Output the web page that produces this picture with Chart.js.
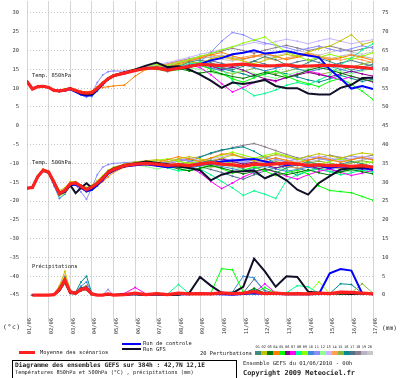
<!DOCTYPE html>
<html>
<head>
<meta charset="utf-8">
<script src="https://cdn.jsdelivr.net/npm/chart.js@4.4.1/dist/chart.umd.min.js"></script>
<style>
body{margin:0;background:#fff;overflow:hidden}
#wrap{position:relative;width:400px;height:378px;overflow:hidden;font-family:'DejaVu Sans Mono',monospace;color:#222}
#wrap canvas{position:absolute;left:0;top:0}
.t{position:absolute;white-space:pre;line-height:8px;font-size:5.4px}
.b{font-weight:bold}
.ln{position:absolute;height:2px}
.box{position:absolute;left:12px;top:360px;width:225px;height:24px;border:1px solid #000;box-sizing:border-box}
.sw{position:absolute;top:351px;width:6px;height:4px}
.num{position:absolute;top:345px;font-size:3.6px;line-height:4px;white-space:pre}
</style>
</head>
<body>
<div id="wrap">
<canvas id="ens" width="400" height="378"></canvas>
<div class="t" style="left:32px;top:71px">Temp. 850hPa</div>
<div class="t" style="left:32px;top:158px">Temp. 500hPa</div>
<div class="t" style="left:32px;top:262px">Précipitations</div>
<div class="t" style="left:3px;top:323px;font-size:6.4px;letter-spacing:0.6px">(°c)</div>
<div class="t" style="left:382px;top:324px;font-size:6.2px">(mm)</div>

<div class="ln" style="left:19px;top:351px;width:16px;height:3px;background:#ff2020"></div>
<div class="t" style="left:40px;top:348px">Moyenne des scénarios</div>
<div class="ln" style="left:122px;top:343px;width:19px;background:#0000ff"></div>
<div class="t" style="left:143px;top:339px">Run de controle</div>
<div class="ln" style="left:122px;top:348px;width:19px;background:#101028"></div>
<div class="t" style="left:143px;top:345px">Run GFS</div>
<div class="t" style="left:200px;top:349px">20 Perturbations</div>
<div id="swatches"></div>

<div class="box"></div>
<div class="t b" style="left:15px;top:361px;font-size:6.2px">Diagramme des ensembles GEFS sur 384h : 42,7N 12,1E</div>
<div class="t" style="left:15px;top:368px;font-size:5.3px">Températures 850hPa et 500hPa (°C) , précipitations (mm)</div>
<div class="t" style="left:243px;top:359px;font-size:5.5px">Ensemble GEFS du 01/06/2010 - 00h</div>
<div class="t b" style="left:243px;top:369px;font-size:6.9px">Copyright 2009 Meteociel.fr</div>
</div>
<script>
// forecast hours: 6h steps to 96h, then 12h steps
var hours = [0,6,12,18,24,30,36,42,48,54,60,66,72,78,84,90,96,
  108,120,132,144,156,168,180,192,204,216,228,240,252,264,276,288,300,312,324,336,348,360,372,384];
var dayTicks = [0,24,48,72,96,120,144,168,192,216,240,264,288,312,336,360,384];
var dateLabels = ['01/06','02/06','03/06','04/06','05/06','06/06','07/06','08/06','09/06',
  '10/06','11/06','12/06','13/06','14/06','15/06','16/06','17/06'];
var leftTicks = [-45,-40,-35,-30,-25,-20,-15,-10,-5,0,5,10,15,20,25,30];
var rightTicks = [0,5,10,15,20,25,30,35,40,45,50,55,60,65,70,75];

/*---------------- moyenne / controle / GFS ----------------*/
var meanT850 = [11.8,9.8,10.4,10.5,10.2,9.4,9.3,9.5,9.9,9.4,8.9,8.7,8.8,10.0,11.3,12.5,13.3,
  14.0,14.7,15.3,15.4,14.8,15.3,15.8,16.3,16.2,16.0,16.2,16.4,16.1,15.9,16.0,16.2,15.8,15.9,16.0,16.1,15.9,15.7,15.5,15.2];
var ctrlT850 = [11.8,9.8,10.4,10.5,10.2,9.4,9.2,9.3,9.7,9.0,8.3,8.0,8.2,9.6,11.0,12.4,13.2,
  14.0,14.8,15.2,15.4,15.1,15.5,15.6,16.4,17.4,18.0,19.0,19.4,20.1,19.2,19.5,19.9,19.2,18.7,18.2,15.0,12.6,9.9,10.6,9.8];
var gfsT850 = [11.8,9.8,10.4,10.5,10.2,9.3,9.2,9.6,10.0,9.2,8.6,8.3,8.4,9.8,11.2,12.6,13.4,
  14.2,15.0,16.0,16.8,15.6,15.8,15.0,13.6,12.0,10.1,11.5,11.1,11.6,12.2,10.6,10.0,10.0,8.6,8.3,8.3,10.1,10.9,12.7,12.8];

var meanT500 = [-16.6,-16.4,-13.5,-11.8,-12.3,-15.0,-18.0,-17.2,-15.4,-15.2,-16.1,-17.0,-16.3,-15.3,-14.0,-12.4,-11.6,
  -10.6,-10.2,-10.0,-10.2,-10.5,-10.3,-10.6,-10.2,-9.8,-10.2,-10.4,-10.8,-10.2,-10.3,-10.1,-9.9,-10.2,-10.5,-10.4,-10.6,-10.5,-10.8,-10.6,-11.0];
var ctrlT500 = [-16.6,-16.4,-13.5,-11.8,-12.4,-15.2,-18.2,-17.6,-15.8,-15.6,-16.5,-17.4,-17.0,-15.8,-14.4,-12.8,-11.9,
  -10.8,-10.5,-10.2,-10.6,-11.0,-10.7,-10.5,-10.2,-10.0,-9.5,-9.2,-9.0,-8.8,-9.5,-10.0,-10.4,-10.2,-10.8,-10.5,-11.2,-10.8,-11.0,-11.3,-11.6];
var gfsT500 = [-16.6,-16.4,-13.5,-11.8,-12.3,-15.0,-17.8,-17.5,-15.8,-17.9,-16.5,-15.3,-16.5,-15.5,-13.8,-12.2,-11.4,
  -10.4,-10.0,-9.5,-9.8,-10.2,-10.8,-11.2,-11.8,-14.5,-13.0,-12.2,-12.1,-11.9,-14.0,-12.8,-14.5,-17.0,-18.3,-15.2,-13.4,-11.6,-11.2,-11.1,-11.0];

var meanPrecip = [null,0,0,0,0,0.1,1.5,4.0,0.8,0.5,1.5,1.8,0.3,0,0,0.3,0,
  0.1,0.5,0.1,0.4,0.1,0.5,0.3,0.4,0.3,0.6,0.4,0.5,0.9,0.4,0.5,0.3,0.4,0.3,0.5,0.4,0.8,0.7,0.5,0.3];
var ctrlPrecip = [null,0,0,0,0,0.1,1.5,3.8,0.6,0.4,1.5,2.0,0.3,0,0,0,0,
  0,0.3,0,0.2,0,0.3,0.2,0.5,0.3,0.2,0.1,0.3,0.5,0.4,0.3,0.2,0.3,0.2,0.3,5.8,6.9,6.5,0.4,0.2];
var gfsPrecip = [null,0,0,0,0,0,1.2,3.5,0.5,0.5,1.8,1.5,0.2,0,0,0,0,
  0.3,0.2,0,0.2,0,0.1,0.5,4.8,2.5,0.6,0.5,2.2,9.7,6.3,2.2,5.0,4.8,0.9,0.6,0.5,0.4,0.3,0.5,0.3];

/*---------------- 20 perturbations ----------------*/
var memberColors = ['#3d8c7c','#c3c300','#007a00','#ff8000','#00ff00','#8c008c','#ff00ff','#00ff8c','#8cff00','#3c8cdc',
  '#8c8cff','#8cff8c','#c8b4ff','#ffa050','#8cb43c','#008c8c','#50708c','#8c7c8c','#b4b4c8','#c8c8c8'];

var pertT850 = [
  [11.8,9.8,10.3,10.6,10.3,9.5,9.2,9.4,9.8,9.5,9.0,8.6,8.5,9.6,11.0,12.4,13.5,14.3,14.9,15.6,15.2,14.6,15.8,16.9,17.5,16.8,15.6,14.9,15.8,17.2,18.4,17.6,16.2,15.5,16.8,18.0,17.1,15.9,14.8,15.6,16.4],
  [11.8,9.9,10.4,10.4,10.1,9.3,9.4,9.7,10.1,9.6,9.1,8.9,9.2,10.4,11.6,12.8,13.6,14.2,14.5,15.0,15.8,15.5,16.2,17.0,16.6,17.8,18.5,17.9,17.2,16.5,17.4,18.3,19.0,18.4,19.6,20.5,21.2,22.6,24.2,21.6,22.4],
  [11.8,9.8,10.4,10.5,10.2,9.4,9.3,9.6,10.0,9.3,8.7,8.4,8.6,9.9,11.2,12.3,13.1,13.9,14.8,15.5,15.1,14.9,15.2,14.6,14.0,14.5,13.8,13.1,12.6,13.4,14.2,13.5,12.8,13.6,14.8,15.5,14.9,14.0,13.2,12.4,11.8],
  [11.8,9.8,10.4,10.5,10.2,9.5,9.4,9.6,10.0,9.6,9.2,9.0,9.3,9.8,10.2,10.4,10.6,10.8,13.2,15.0,15.4,15.6,16.5,17.2,18.0,18.8,19.5,18.6,17.8,18.4,19.2,18.5,17.6,18.2,19.0,18.3,17.5,18.1,18.8,18.2,17.4],
  [11.8,9.8,10.5,10.6,10.3,9.4,9.2,9.4,9.9,9.5,9.0,8.7,8.6,9.9,11.3,12.6,13.5,14.3,15.0,15.6,15.3,14.7,15.0,15.6,16.2,15.0,13.8,12.5,11.6,12.8,13.9,14.6,13.2,12.0,11.2,10.4,11.8,12.6,11.0,9.2,7.0],
  [11.8,9.8,10.4,10.5,10.2,9.3,9.2,9.5,9.8,9.3,8.8,8.5,8.6,10.0,11.4,12.6,13.4,14.1,14.6,15.2,15.6,15.0,15.3,16.0,16.5,15.8,15.0,15.6,14.8,13.5,12.5,12.0,12.8,13.5,14.2,13.6,13.0,13.8,14.5,13.8,13.2],
  [11.8,9.8,10.4,10.5,10.2,9.4,9.3,9.5,9.9,9.5,9.0,8.8,8.9,10.1,11.4,12.5,13.2,13.8,14.5,15.1,15.5,14.9,15.4,16.1,15.5,13.6,11.2,9.0,10.2,11.5,12.4,11.8,12.9,13.8,14.6,13.9,13.0,12.2,13.1,12.5,11.6],
  [11.8,9.8,10.3,10.4,10.1,9.3,9.2,9.5,9.9,9.4,8.8,8.4,8.3,9.6,11.0,12.3,13.2,14.0,14.8,15.4,15.9,15.2,15.7,16.4,17.0,16.4,15.2,12.0,9.8,8.0,8.6,9.5,10.8,11.5,10.9,12.2,13.5,16.2,18.0,20.2,21.8],
  [11.8,9.8,10.4,10.5,10.2,9.4,9.3,9.6,10.0,9.5,8.9,8.6,8.7,9.9,11.3,12.5,13.4,14.2,15.0,15.8,16.4,16.0,16.8,17.6,18.5,19.2,20.2,21.0,22.0,22.8,23.6,21.5,19.6,18.5,17.4,18.2,19.0,18.3,17.6,18.5,19.4],
  [11.8,9.8,10.4,10.5,10.2,9.4,9.2,9.4,9.7,9.2,8.6,8.1,7.8,9.2,10.8,12.2,13.2,14.0,14.6,15.1,15.3,14.6,15.0,15.7,16.0,15.3,14.7,15.4,16.2,15.5,14.6,15.3,16.0,15.1,14.4,15.0,15.8,15.0,14.3,14.9,15.5],
  [11.8,9.8,10.4,10.5,10.2,9.4,9.3,9.5,9.7,9.0,8.2,7.6,8.6,11.5,13.5,14.4,14.6,14.5,14.9,15.4,15.6,15.2,15.8,16.3,17.0,19.5,22.5,24.8,24.2,22.8,22.0,21.4,20.8,20.0,20.6,21.2,20.4,19.8,20.5,21.3,20.6],
  [11.8,9.8,10.4,10.5,10.2,9.4,9.3,9.6,10.0,9.6,9.1,8.9,9.0,10.2,11.5,12.7,13.5,14.2,14.9,15.5,15.2,14.5,14.9,15.4,15.0,14.2,13.5,14.1,14.8,13.9,13.2,12.6,13.5,14.3,15.2,16.0,15.3,14.4,13.8,14.6,15.3],
  [11.8,9.8,10.4,10.5,10.2,9.4,9.3,9.5,9.9,9.4,8.9,8.6,8.7,10.0,11.3,12.5,13.3,14.1,14.8,15.5,16.2,16.8,17.5,18.2,19.0,19.6,20.3,21.0,21.5,22.2,21.6,22.4,23.0,22.5,21.8,22.6,23.2,22.5,21.8,22.4,22.9],
  [11.8,9.8,10.4,10.5,10.2,9.4,9.3,9.5,9.9,9.5,9.0,8.8,8.9,10.1,11.4,12.6,13.4,14.1,14.8,15.4,15.8,16.4,17.1,17.6,18.2,18.9,18.3,17.6,18.2,18.8,18.1,17.4,18.0,18.7,19.3,18.6,18.0,17.4,18.1,17.5,16.8],
  [11.8,9.8,10.4,10.5,10.2,9.4,9.3,9.5,9.9,9.3,8.8,8.5,8.5,9.8,11.2,12.4,13.2,14.0,14.7,15.3,15.0,14.4,15.0,15.6,16.1,15.4,14.6,13.8,14.5,15.3,14.6,13.9,14.5,15.2,14.4,13.6,14.2,14.9,15.6,16.4,17.0],
  [11.8,9.8,10.4,10.5,10.2,9.4,9.2,9.4,9.8,9.3,8.7,8.2,8.0,9.4,10.9,12.2,13.1,13.9,14.7,15.3,15.6,15.0,15.5,16.1,16.7,16.0,15.2,14.5,13.8,12.9,13.7,14.5,13.8,13.0,12.2,11.6,12.5,13.4,12.6,11.8,12.4],
  [11.8,9.8,10.4,10.5,10.2,9.4,9.3,9.5,9.9,9.4,8.9,8.6,8.6,9.9,11.2,12.4,13.3,14.0,14.7,15.2,15.4,14.9,15.4,16.0,16.6,17.3,16.6,15.8,16.5,17.2,16.4,15.6,16.2,17.0,17.6,16.8,16.0,16.7,17.4,16.6,15.8],
  [11.8,9.8,10.4,10.5,10.2,9.4,9.3,9.5,9.9,9.4,8.9,8.7,8.8,10.0,11.3,12.5,13.3,14.0,14.6,15.1,15.8,16.5,17.2,17.8,18.4,19.2,19.9,20.6,20.0,19.3,20.1,20.8,21.4,20.7,20.0,20.6,21.2,20.5,19.8,20.4,21.0],
  [11.8,9.8,10.4,10.5,10.2,9.4,9.3,9.5,9.9,9.4,8.9,8.6,8.7,9.9,11.3,12.5,13.4,14.1,14.8,15.4,15.9,16.3,16.9,17.4,17.9,18.3,18.8,18.2,17.6,18.3,18.9,18.3,17.7,18.4,19.0,18.4,17.8,18.5,19.1,18.5,17.9],
  [11.8,9.8,10.4,10.5,10.2,9.4,9.3,9.5,9.9,9.4,8.9,8.6,8.7,9.9,11.2,12.4,13.3,14.0,14.7,15.3,15.6,16.0,16.6,17.2,17.8,18.3,17.7,17.2,17.8,18.5,19.1,18.6,19.3,20.0,19.4,18.8,19.5,20.2,19.6,19.0,19.7]
];

var pertT500 = [
  [-16.6,-16.4,-13.4,-11.7,-12.4,-15.2,-18.3,-17.5,-15.6,-15.0,-15.8,-16.6,-16.0,-15.0,-13.6,-12.0,-11.3,-10.4,-9.8,-9.5,-9.9,-10.6,-11.2,-10.5,-9.8,-9.2,-9.8,-10.5,-11.4,-12.6,-13.8,-12.5,-11.2,-10.4,-9.6,-10.3,-11.0,-10.2,-9.5,-10.1,-10.8],
  [-16.6,-16.3,-13.2,-11.5,-12.0,-14.6,-17.2,-16.5,-14.8,-14.9,-15.7,-16.4,-15.8,-14.6,-13.2,-11.8,-11.0,-10.2,-9.6,-9.3,-9.0,-9.6,-8.8,-8.2,-8.8,-9.4,-8.6,-7.8,-8.5,-9.2,-8.4,-7.6,-8.2,-8.9,-8.1,-7.4,-8.0,-8.6,-7.8,-7.2,-7.6],
  [-16.6,-16.4,-13.6,-12.0,-12.6,-15.3,-18.0,-17.4,-15.5,-15.3,-16.2,-17.1,-16.5,-15.5,-14.2,-12.7,-11.9,-10.9,-10.4,-10.1,-10.4,-10.8,-11.4,-12.0,-11.3,-10.6,-11.2,-12.0,-12.8,-12.1,-11.4,-12.2,-13.0,-12.4,-11.7,-12.5,-13.1,-12.3,-11.6,-12.2,-12.8],
  [-16.6,-16.4,-13.5,-11.9,-12.3,-14.9,-17.6,-17.0,-15.2,-15.1,-15.9,-16.8,-16.4,-15.7,-14.8,-13.6,-12.4,-11.0,-10.5,-10.1,-9.8,-9.0,-8.2,-8.8,-9.5,-8.6,-7.5,-7.5,-8.5,-9.4,-9.2,-8.5,-9.2,-9.9,-9.1,-8.4,-9.0,-9.7,-9.0,-8.4,-9.1],
  [-16.6,-16.4,-13.5,-11.8,-12.2,-15.0,-17.9,-17.1,-15.3,-15.2,-16.0,-16.9,-16.2,-15.2,-13.9,-12.3,-11.5,-10.5,-10.0,-9.8,-10.1,-10.6,-11.3,-12.0,-11.2,-10.5,-11.4,-12.6,-11.8,-11.0,-12.0,-13.2,-12.5,-11.8,-12.8,-16.0,-17.2,-17.5,-17.8,-18.8,-19.8],
  [-16.6,-16.4,-13.5,-11.8,-12.3,-15.0,-18.0,-17.3,-15.5,-15.3,-16.2,-17.0,-16.4,-15.4,-14.1,-12.5,-11.7,-10.7,-10.3,-10.0,-10.3,-10.6,-10.4,-10.8,-10.2,-9.6,-8.8,-9.5,-10.2,-9.6,-10.4,-11.2,-10.6,-10.0,-10.7,-11.4,-10.8,-10.2,-10.9,-11.5,-11.0],
  [-16.6,-16.4,-13.5,-11.8,-12.3,-15.1,-18.1,-17.3,-15.4,-15.2,-16.1,-17.0,-16.3,-15.3,-14.0,-12.4,-11.6,-10.6,-10.2,-10.0,-10.2,-10.7,-10.4,-11.0,-12.5,-14.8,-16.7,-15.2,-13.6,-12.4,-11.5,-12.3,-13.4,-14.2,-13.0,-12.1,-11.5,-12.4,-13.2,-12.6,-11.8],
  [-16.6,-16.4,-13.5,-11.8,-12.3,-15.0,-17.9,-17.2,-15.4,-15.2,-16.1,-17.0,-16.3,-15.3,-14.0,-12.4,-11.6,-10.6,-10.2,-10.1,-10.5,-11.2,-12.0,-11.8,-11.5,-13.0,-14.8,-16.5,-18.5,-17.3,-18.2,-19.3,-14.5,-13.0,-12.0,-11.5,-12.2,-13.0,-12.5,-11.8,-12.3],
  [-16.6,-16.4,-13.5,-11.8,-12.5,-15.4,-18.6,-17.9,-15.9,-15.5,-16.4,-17.4,-16.9,-15.9,-14.5,-12.9,-11.9,-10.5,-10.0,-9.6,-9.2,-8.8,-9.4,-10.0,-9.4,-8.6,-7.8,-7.0,-7.8,-8.6,-7.9,-7.2,-8.0,-8.8,-9.6,-10.2,-9.5,-8.8,-9.4,-10.0,-9.5],
  [-16.6,-16.4,-13.6,-12.0,-12.8,-16.0,-19.3,-18.2,-16.0,-15.6,-16.5,-17.4,-16.8,-15.7,-14.3,-12.7,-11.9,-10.9,-10.5,-10.3,-10.6,-11.0,-10.8,-11.3,-10.7,-10.2,-10.8,-11.4,-12.0,-11.4,-10.8,-11.5,-12.1,-11.6,-11.0,-11.6,-12.2,-11.7,-11.2,-11.8,-12.3],
  [-16.6,-16.4,-13.5,-11.8,-12.3,-15.0,-18.0,-17.0,-15.0,-15.8,-17.6,-19.5,-16.5,-13.0,-11.0,-10.3,-10.0,-9.8,-9.6,-9.8,-10.4,-9.6,-8.8,-9.4,-10.0,-9.3,-8.6,-9.2,-9.8,-9.0,-8.3,-8.9,-9.5,-8.8,-8.1,-8.7,-9.3,-8.6,-8.0,-8.5,-9.0],
  [-16.6,-16.4,-13.5,-11.8,-12.3,-15.0,-17.8,-17.1,-15.3,-15.1,-16.0,-16.9,-16.2,-15.2,-13.9,-12.3,-11.5,-10.6,-10.4,-10.8,-11.5,-10.8,-10.2,-10.9,-11.6,-10.9,-10.3,-11.0,-11.7,-11.0,-10.4,-11.1,-11.8,-12.5,-11.8,-11.2,-11.9,-12.6,-11.9,-11.3,-11.9],
  [-16.6,-16.4,-13.5,-11.8,-12.3,-15.0,-18.0,-17.2,-15.4,-15.2,-16.1,-17.0,-16.3,-15.3,-14.0,-12.4,-11.6,-10.6,-10.2,-10.0,-10.2,-9.8,-9.2,-8.6,-9.2,-8.8,-8.2,-7.6,-8.3,-9.0,-8.4,-7.8,-8.5,-9.2,-8.6,-8.0,-8.7,-9.3,-8.7,-8.1,-8.6],
  [-16.6,-16.4,-13.3,-11.6,-12.1,-14.8,-17.7,-17.0,-15.2,-15.0,-15.9,-16.7,-16.0,-15.0,-13.7,-12.1,-11.3,-10.6,-10.3,-10.2,-10.6,-11.0,-10.5,-9.9,-10.5,-11.1,-10.6,-10.0,-10.6,-11.2,-10.6,-10.0,-10.7,-11.3,-10.7,-10.1,-10.8,-11.4,-10.8,-10.2,-10.9],
  [-16.6,-16.4,-13.6,-11.9,-12.5,-15.3,-18.4,-17.6,-15.7,-15.4,-16.3,-17.3,-16.6,-15.6,-14.3,-12.6,-11.8,-10.6,-10.1,-9.8,-10.0,-10.4,-10.0,-9.6,-10.1,-10.6,-10.1,-9.6,-10.1,-10.7,-10.1,-9.5,-10.0,-10.6,-10.0,-9.4,-9.9,-10.5,-9.9,-9.3,-9.8],
  [-16.6,-16.5,-13.7,-12.1,-12.6,-15.4,-18.5,-17.8,-16.0,-15.6,-16.6,-17.6,-17.1,-16.0,-14.6,-12.9,-12.0,-10.6,-10.2,-10.0,-10.2,-10.5,-10.3,-9.6,-8.4,-7.2,-6.4,-6.0,-5.6,-6.8,-8.4,-10.0,-11.6,-13.2,-12.0,-10.8,-11.5,-12.2,-11.4,-10.8,-11.4],
  [-16.6,-16.3,-13.4,-11.7,-12.2,-14.9,-17.8,-17.1,-15.3,-15.1,-16.0,-16.8,-16.1,-15.1,-13.8,-12.2,-11.4,-10.6,-10.2,-10.0,-10.2,-10.5,-10.3,-10.6,-10.9,-11.6,-12.4,-13.4,-14.2,-13.0,-12.0,-11.2,-10.6,-11.3,-12.0,-11.4,-10.8,-11.4,-12.0,-11.5,-11.0],
  [-16.6,-16.4,-13.5,-11.8,-12.4,-15.2,-18.2,-17.4,-15.6,-15.3,-16.3,-17.2,-16.6,-15.5,-14.1,-12.5,-11.7,-10.6,-10.2,-10.0,-10.2,-10.0,-9.4,-8.8,-8.2,-7.4,-6.6,-5.8,-5.2,-4.7,-5.6,-6.6,-7.6,-8.5,-9.2,-8.5,-7.8,-8.4,-9.0,-8.4,-7.8],
  [-16.6,-16.4,-13.4,-11.7,-12.2,-14.8,-17.6,-16.9,-15.1,-14.9,-15.8,-16.6,-15.9,-14.9,-13.6,-12.0,-11.2,-10.6,-10.2,-10.0,-10.2,-9.9,-9.5,-9.1,-9.6,-10.1,-9.6,-9.1,-9.6,-10.1,-9.6,-9.1,-9.6,-10.1,-9.6,-9.1,-8.6,-9.1,-9.6,-9.1,-8.6],
  [-16.6,-16.4,-13.5,-11.9,-12.4,-15.1,-18.1,-17.3,-15.5,-15.3,-16.2,-17.1,-16.5,-15.4,-14.1,-12.5,-11.7,-10.6,-10.2,-10.0,-10.2,-9.7,-9.2,-8.8,-9.3,-9.8,-9.3,-8.8,-9.3,-9.8,-9.2,-8.6,-9.1,-9.6,-9.1,-8.6,-9.1,-9.6,-9.0,-8.5,-9.0]
];

var pertPrecip = [
  [null,0,0,0,0,0.2,1.8,4.5,1.0,0.6,1.5,2.2,0.3,0,0,0.2,0,0,0.4,0,0.3,0,0.5,0.2,0.3,0.4,0.8,0.3,0.5,1.2,0.4,0.3,0.6,0.4,0.2,0.5,0.3,0.9,0.6,0.5,0.3],
  [null,0,0,0,0,0.3,2.5,6.3,1.2,0.5,1.2,1.6,0.2,0,0,0,0,0,0.5,0,0.2,0,0.3,0.5,0.2,0.3,0.5,0.2,0.4,0.6,0.3,0.2,0.5,0.3,0.2,0.4,0.2,0.6,0.4,0.3,0.2],
  [null,0,0,0,0,0.1,1.2,3.6,0.8,0.4,1.4,1.9,0.3,0,0,0.1,0,0,0.3,0.1,0.6,0,0.2,0.4,0.6,0.2,0.4,0.6,0.3,1.8,0.5,0.4,0.2,0.6,0.3,0.2,0.4,0.3,0.5,0.4,0.2],
  [null,0,0,0,0,0.2,1.4,3.2,0.6,0.5,1.6,2.4,0.2,0,0,0,0,0,0.2,0,0.3,0,0.4,0.2,0.3,0.5,0.3,0.4,0.2,0.5,0.3,0.2,0.4,0.3,0.5,0.2,0.4,0.3,0.2,0.5,0.3],
  [null,0,0,0,0,0.2,1.6,3.8,0.9,0.4,1.3,1.8,0.3,0,0,0,0,0,0.2,0,0.4,0,0.3,0.5,0.3,0.6,7.0,6.7,0.8,0.4,2.0,0.5,0.3,0.6,0.4,0.3,0.5,0.4,0.3,0.6,0.4],
  [null,0,0,0,0,0.1,1.5,4.2,1.1,0.6,1.1,1.5,0.2,0,0,0,0,0,0.4,0.2,0.3,0,0.2,0.3,0.5,0.2,0.4,0.3,0.6,0.4,0.3,0.5,0.2,0.4,0.3,0.5,0.3,0.4,0.2,0.3,0.4],
  [null,0,0,0,0,0.2,1.7,4.0,0.8,0.5,1.6,2.0,0.3,0,0,0.2,0,0.4,2.0,0.3,0.2,0,0.3,0.2,0.4,0.3,0.5,0.4,0.3,0.6,3.0,0.5,0.3,0.4,0.2,0.5,0.3,0.4,0.6,0.3,0.2],
  [null,0,0,0,0,0.1,1.4,3.9,0.7,0.4,1.5,2.1,0.2,0,0,0,0,0,0.3,0,0.5,0.3,2.8,0.4,0.3,0.5,0.3,0.6,0.4,0.3,0.5,0.4,0.6,2.5,2.2,0.4,0.3,0.5,0.4,0.3,0.2],
  [null,0,0,0,0,0.2,1.9,4.4,1.0,0.5,1.3,1.7,0.2,0,0,0,0,0,0.3,0,0.2,0,0.4,0.3,0.2,0.4,0.3,0.5,0.3,0.4,0.6,0.3,0.2,0.5,0.3,3.5,0.4,0.3,0.5,0.4,0.3],
  [null,0,0,0,0,0.3,2.0,4.8,1.2,0.7,2.4,3.5,0.4,0,0,0,0,0,0.5,0.2,0.4,0,0.3,0.5,0.4,0.3,0.6,0.8,5.0,4.6,0.8,0.4,0.3,0.5,0.4,0.3,0.5,0.4,0.3,0.5,0.4],
  [null,0,0,0,0,0.1,1.3,3.5,0.6,0.4,1.2,1.6,0.2,0,0,1.5,0,0,0.2,0,0.3,0,0.2,0.4,0.3,0.2,0.4,0.3,0.5,0.4,0.2,0.3,0.5,0.3,0.4,0.2,0.3,0.5,0.3,0.2,0.4],
  [null,0,0,0,0,0.2,1.6,4.1,0.9,0.5,1.4,1.9,0.3,0,0,0,0,0,0.3,0,0.4,0,0.5,0.3,0.5,0.4,0.6,0.5,0.4,0.5,0.3,0.6,0.4,0.3,0.5,0.4,0.6,0.5,0.4,0.3,0.5],
  [null,0,0,0,0,0.2,1.5,3.7,0.8,0.4,1.3,1.7,0.2,0,0,0,0,0,0.3,0,0.2,0,0.4,0.2,0.3,0.4,0.2,0.3,0.4,0.3,0.5,0.3,0.4,0.2,0.3,0.5,0.3,0.4,0.3,0.2,0.3],
  [null,0,0,0,0,0.3,2.2,5.2,1.1,0.6,1.5,2.0,0.3,0,0,0,0,0,0.4,0,0.3,0,0.3,0.4,0.3,0.5,0.4,0.3,0.5,0.4,0.3,0.4,0.6,0.4,0.3,0.5,0.4,0.3,0.4,0.5,0.3],
  [null,0,0,0,0,0.2,1.6,3.9,0.8,0.5,1.4,1.8,0.2,0,0,0,0,0,0.3,0,0.2,0,0.4,0.3,0.4,0.3,0.5,0.3,0.4,0.5,0.3,0.4,0.5,0.3,0.4,0.3,0.5,0.4,0.6,3.0,0.5],
  [null,0,0,0,0,0.2,1.8,4.3,0.9,0.8,3.5,5.0,0.5,0,0,0,0,0,0.3,0,0.4,0,0.3,0.5,0.3,0.4,0.6,0.4,0.5,1.5,0.4,0.3,0.5,0.4,0.3,0.5,0.4,3.0,2.8,0.5,0.3],
  [null,0,0,0,0,0.2,1.5,3.8,0.8,0.5,1.8,2.5,0.3,0,0,0,0,0,0.4,0,0.3,0,0.2,0.4,0.3,0.2,0.4,0.3,0.6,4.2,1.2,0.5,0.3,0.4,0.3,0.4,0.3,0.5,0.4,0.3,0.4],
  [null,0,0,0,0,0.1,1.4,3.6,0.7,0.4,1.2,1.6,0.2,0,0,0,0,0,0.2,0,0.3,0,0.3,0.2,0.4,0.3,0.2,0.4,0.3,0.5,0.3,0.4,0.3,0.5,0.3,0.4,0.3,0.4,0.5,0.3,0.2],
  [null,0,0,0,0,0.2,1.6,4.0,0.9,0.5,1.3,1.8,0.2,0,0,0,0,0,0.3,0,0.2,0,0.4,0.3,0.2,0.4,0.3,0.2,0.4,0.3,0.5,0.3,0.4,0.3,0.2,0.4,0.3,0.5,0.3,0.4,0.2],
  [null,0,0,0,0,0.2,1.7,4.1,0.9,0.5,1.5,1.9,0.3,0,0,0,0,0,0.3,0,0.3,0,0.3,0.4,0.3,0.3,0.4,0.3,0.4,0.3,0.4,0.3,0.4,0.3,0.4,0.3,0.4,0.3,0.4,0.3,0.4]
];

/*---------------- legend swatches ----------------*/
var sw = document.getElementById('swatches');
memberColors.forEach(function (c, i) {
  var x = 255 + i * 5.9;
  var b = document.createElement('div');
  b.className = 'sw';
  b.style.left = x + 'px';
  b.style.background = c;
  sw.appendChild(b);
  var n = document.createElement('div');
  n.className = 'num';
  n.style.left = (x + 0.6) + 'px';
  n.textContent = (i < 9 ? '0' : '') + (i + 1);
  sw.appendChild(n);
});

/*---------------- datasets ----------------*/
function pts(arr) {
  return arr.map(function (v, i) { return {x: hours[i], y: v}; });
}
var datasets = [];
function addLine(arr, axis, color, width, radius) {
  datasets.push({
    data: pts(arr), yAxisID: axis,
    borderColor: color, backgroundColor: color,
    borderWidth: width, pointRadius: radius, pointBorderWidth: 0,
    pointHoverRadius: 0, fill: false, tension: 0
  });
}
// first dataset is drawn on top
addLine(meanT850, 'y', '#ff2020', 3.2, 0);
addLine(meanT500, 'y', '#ff2020', 3.2, 0);
addLine(meanPrecip, 'y2', '#ff2020', 3.2, 0);
addLine(gfsT850, 'y', '#101028', 2, 0);
addLine(gfsT500, 'y', '#101028', 2, 0);
addLine(gfsPrecip, 'y2', '#101028', 2, 0);
addLine(ctrlT850, 'y', '#0000ff', 2, 0);
addLine(ctrlT500, 'y', '#0000ff', 2, 0);
addLine(ctrlPrecip, 'y2', '#0000ff', 2, 0);
for (var k = 0; k < 20; k++) {
  addLine(pertT850[k], 'y', memberColors[k], 1, 1);
  addLine(pertT500[k], 'y', memberColors[k], 1, 1);
  addLine(pertPrecip[k], 'y2', memberColors[k], 1, 1);
}

var tickFont = {family: 'DejaVu Sans Mono', size: 5.4};
function noPad(s) { s.paddingTop = 0; s.paddingBottom = 0; s.paddingLeft = 0; s.paddingRight = 0; }

new Chart('ens', {
  type: 'line',
  data: {datasets: datasets},
  options: {
    responsive: false,
    animation: false,
    events: [],
    layout: {padding: 0},
    plugins: {legend: {display: false}, tooltip: {enabled: false}},
    scales: {
      x: {
        type: 'linear', min: 0, max: 384,
        afterBuildTicks: function (s) { s.ticks = dayTicks.map(function (v) { return {value: v}; }); },
        afterFit: function (s) { s.height = 62; noPad(s); },
        grid: {color: '#d6d6d6', lineWidth: 1, tickLength: 6},
        border: {display: false},
        ticks: {
          callback: function (v) { return dateLabels[Math.round(v / 24)]; },
          minRotation: 90, maxRotation: 90, autoSkip: false,
          padding: -4, labelOffset: 3, font: tickFont, color: '#333'
        }
      },
      y: {
        position: 'left', min: -50.57, max: 33.18,
        afterBuildTicks: function (s) { s.ticks = leftTicks.map(function (v) { return {value: v}; }); },
        afterFit: function (s) { s.width = 27; noPad(s); },
        grid: {color: '#c4c4c4', lineWidth: 1, drawTicks: false},
        border: {display: false, dash: [1, 2]},
        ticks: {padding: 8, font: tickFont, color: '#333'}
      },
      y2: {
        position: 'right', min: -5.57, max: 78.18,
        afterBuildTicks: function (s) { s.ticks = rightTicks.map(function (v) { return {value: v}; }); },
        afterFit: function (s) { s.width = 27; noPad(s); },
        grid: {display: false, drawTicks: false},
        border: {display: false},
        ticks: {padding: 9, font: tickFont, color: '#333'}
      }
    }
  }
});
</script>
</body>
</html>
